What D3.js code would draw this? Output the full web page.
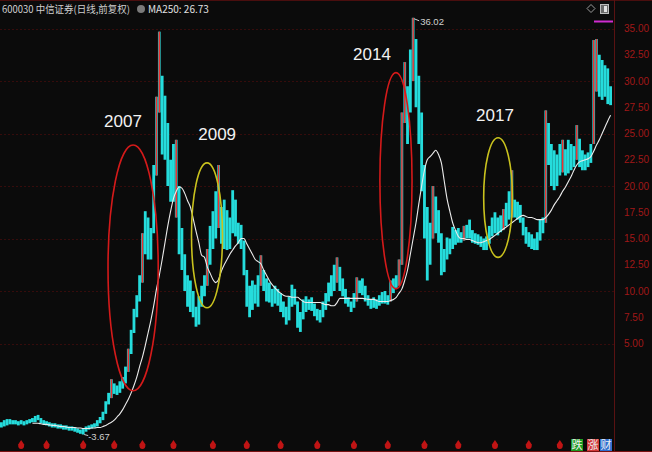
<!DOCTYPE html>
<html><head><meta charset="utf-8">
<script src="https://cdn.jsdelivr.net/npm/d3@7"></script>
<style>html,body{margin:0;padding:0;background:#0b0b0b;} svg{display:block}</style>
</head><body>
<svg id="c" width="652" height="452"></svg>
<script>
// ---------------- DATA (monthly) ----------------
const stockTitle = "600030 中信证券(日线,前复权)";
const maLabel = "MA250";
const months = d3.timeMonth.range(new Date(2003, 0, 1), new Date(2021, 1, 1)); // 2003-01 .. 2021-01

const highs = [
  -2.5,-2.3,-2.2,-2.2,-2.3,-2.3,-2.4,-2.3,-2.4,-2.3,-2.2,-2.1,
  -1.9,-1.8,-2.1,-2.3,-2.4,-2.5,-2.6,-2.6,-2.7,-2.7,-2.8,-2.8,
  -2.9,-2.9,-3.0,-3.1,-3.2,-3.1,-2.9,-2.8,-2.7,-2.6,-2.3,-2.0,
  -1.5,-0.5,0.3,1.6,1.2,1.0,1.4,1.8,2.8,4.5,6.3,8.3,
  9.6,11.5,15.5,17.6,17.0,16.0,22.0,28.5,34.7,30.5,28.6,26.0,
  22.5,24.0,24.4,20.0,16.0,13.5,11.5,11.0,10.0,8.5,9.5,10.5,
  11.5,14.0,16.2,17.6,19.5,22.0,18.0,18.7,17.7,17.0,19.6,18.7,
  16.5,16.3,14.8,12.0,10.5,11.0,10.6,11.5,13.4,12.0,11.2,10.8,
  10.2,10.5,10.2,9.8,9.0,8.5,9.5,10.6,10.2,9.0,8.0,9.2,
  9.5,9.2,9.4,8.8,8.3,8.2,9.0,9.8,10.8,11.5,12.5,13.2,
  12.3,11.2,10.2,9.4,9.0,9.8,11.3,11.0,11.2,10.5,9.6,9.2,
  9.4,9.2,9.6,9.9,10.0,9.6,11.0,11.2,11.5,13.0,27.0,31.8,
  29.5,33.0,36.02,34.0,30.5,27.0,22.0,18.0,16.5,20.0,19.0,17.7,
  15.5,14.0,15.1,15.0,16.1,15.8,16.0,15.6,16.2,16.3,16.8,15.8,
  15.5,15.4,15.2,15.0,15.2,16.2,17.0,17.5,17.0,17.2,17.8,18.4,
  19.5,21.5,18.7,18.5,18.2,17.0,16.1,15.6,15.4,15.0,15.6,16.8,
  17.0,27.2,26.0,24.0,23.4,23.0,24.0,24.4,23.5,24.4,24.0,23.8,
  25.8,24.5,23.4,23.0,23.2,24.0,33.9,34.0,32.5,32.0,31.5,31.2,
  29.5
];
const lows = [
  -3.0,-2.9,-2.8,-2.7,-2.7,-2.7,-2.8,-2.7,-2.8,-2.7,-2.6,-2.5,
  -2.5,-2.3,-2.6,-2.7,-2.8,-2.9,-3.0,-3.0,-3.1,-3.1,-3.2,-3.2,
  -3.3,-3.3,-3.4,-3.5,-3.6,-3.67,-3.4,-3.2,-3.1,-3.0,-2.9,-2.6,
  -2.3,-1.7,-0.8,-0.2,0.2,0.1,0.3,0.7,1.2,2.3,4.0,6.0,
  7.5,9.0,10.8,13.5,13.0,13.0,15.5,21.0,27.0,23.0,22.5,20.0,
  18.5,18.5,17.0,13.5,12.0,10.0,8.5,8.0,7.5,6.6,6.8,8.5,
  9.5,10.5,12.5,14.0,15.0,16.0,14.5,14.0,13.9,14.0,15.5,15.2,
  14.5,14.0,11.5,8.5,7.5,8.2,8.8,8.5,10.5,10.0,9.0,8.9,
  8.5,8.8,8.6,8.0,7.5,6.8,7.2,8.5,8.7,6.5,6.1,7.3,
  8.0,8.2,8.1,7.6,7.2,7.0,7.5,8.2,9.0,9.5,10.0,10.8,
  10.0,9.5,8.8,8.5,8.0,8.4,9.0,9.8,9.6,9.0,8.6,8.3,
  8.4,8.3,8.6,8.8,8.8,8.7,9.0,9.8,10.3,10.5,12.5,26.0,
  24.0,27.0,30.0,27.5,24.0,19.5,15.0,11.0,12.5,15.0,15.5,14.6,
  11.5,11.8,13.0,13.5,14.0,14.4,14.6,14.6,14.8,15.0,15.0,14.6,
  14.5,14.4,14.2,13.9,13.9,14.5,15.2,15.5,15.3,15.6,15.8,16.2,
  16.8,17.0,17.0,16.8,16.5,15.3,14.5,14.2,14.0,13.9,13.9,14.8,
  15.5,16.5,22.0,20.0,19.6,20.0,21.0,21.3,21.0,21.2,21.5,21.8,
  22.5,21.8,21.5,21.5,21.8,22.2,24.0,29.0,28.5,28.2,28.5,27.8,
  27.7
];
const ma250 = [
  null,null,null,null,null,null,null,null,null,null,null,-2.6,
  -2.6,-2.6,-2.65,-2.7,-2.7,-2.75,-2.8,-2.8,-2.85,-2.9,-2.9,-2.95,
  -3.0,-3.0,-3.0,-3.05,-3.05,-3.1,-3.1,-3.1,-3.05,-3.05,-3.0,-3.0,
  -2.9,-2.8,-2.65,-2.5,-2.3,-2.0,-1.7,-1.3,-0.8,-0.3,0.3,1.0,
  1.8,2.8,3.7,4.8,6.0,7.2,8.6,10.2,11.5,13.0,14.6,16.2,
  17.6,18.8,19.5,19.9,19.8,19.3,18.6,18.0,16.9,15.7,14.6,13.4,
  13.2,12.3,11.7,11.1,10.8,11.1,11.9,12.5,13.0,13.5,13.9,14.3,
  14.6,15.0,15.0,14.5,14.0,13.5,13.0,12.8,12.6,12.0,11.5,11.0,
  10.6,10.3,10.0,9.8,9.6,9.5,9.5,9.4,9.4,9.4,9.2,9.0,
  8.9,8.9,8.9,8.9,8.9,8.9,8.8,8.7,8.7,8.6,8.6,8.9,
  9.3,9.3,9.3,9.3,9.3,9.3,9.3,9.3,9.3,9.25,9.2,9.2,
  9.2,9.1,9.0,9.0,9.0,9.0,9.1,9.2,9.4,9.8,10.2,11.0,
  12.0,13.5,15.0,16.5,18.3,20.0,21.5,22.5,22.8,23.1,23.4,23.0,
  22.2,20.5,18.8,17.6,16.5,15.8,15.2,15.0,15.0,14.9,14.9,14.8,
  14.7,14.6,14.6,14.7,14.8,14.9,15.1,15.3,15.5,15.7,15.9,16.1,
  16.3,16.5,16.7,16.9,17.1,17.2,17.1,17.0,17.0,16.9,16.8,16.8,
  16.8,17.0,17.3,17.7,18.2,18.6,19.0,19.5,19.9,20.4,20.9,21.5,
  22.0,22.3,22.4,22.5,22.6,22.8,23.3,23.9,24.4,25.0,25.6,26.2,
  26.73
];
// months whose candles show as red (rising) in the picture
const upMonths = [39,45,50,55,56,62,73,77,92,119,126,138,141,142,143,146,153,164,178,181,193,199,204,210,211];
const tickValues = [5,7.5,10,12.5,15,17.5,20,22.5,25,27.5,30,32.5,35];
const gridValues = [5,10,15,20,25,30,35];
const dividendMonths = [7,16,29,40,50,61,75,87,99,112,125,137,150,162,175,187,198];
const annoLabels = ["2007","2009","2014","2017"];

// ---------------- LAYOUT / STYLE ----------------
const W = 652, H = 452, plotRight = 612, axisX = 614;
const annoStyle = [
  {cx:46.7, cy:12.2, rx:8.9, ry:11.7, lx:43.1, ly:26.2, color:"#d41a1a"},
  {cx:72.9, cy:15.3, rx:5.5, ry:6.9,  lx:76.5, ly:25.0, color:"#c9c21e"},
  {cx:139.9,cy:20.5, rx:5.7, ry:10.3, lx:131.4,ly:32.6, color:"#d41a1a"},
  {cx:176.1,cy:18.9, rx:5.1, ry:5.7,  lx:175.0,ly:26.8, color:"#c9c21e"}
];
const CYAN = "#25dcdc", RED = "#ee3030";

const svg = d3.select("#c");
svg.append("rect").attr("width", W).attr("height", H).attr("fill", "#0b0b0b");

const x = d3.scaleLinear().domain([-0.5, months.length - 0.5]).range([0, plotRight]);
const y = d3.scaleLinear().domain([0, 35]).range([396, 28.5]);
const step = x(1) - x(0);

// grid
svg.append("g").selectAll("line").data(gridValues).join("line")
  .attr("x1", 0).attr("x2", axisX).attr("y1", d => Math.round(y(d)) + 0.5).attr("y2", d => Math.round(y(d)) + 0.5)
  .attr("stroke", "#360c0c").attr("stroke-dasharray", "2,2");

// frame lines
svg.append("line").attr("x1", 0).attr("x2", W).attr("y1", 0.5).attr("y2", 0.5).attr("stroke", "#4a0e0e");
svg.append("line").attr("x1", axisX + 0.5).attr("x2", axisX + 0.5).attr("y1", 0).attr("y2", H).attr("stroke", "#5a1212");
svg.append("line").attr("x1", 0).attr("x2", W).attr("y1", H - 0.5).attr("y2", H - 0.5).attr("stroke", "#7a1212");

// right axis
const ax = svg.append("g").attr("transform", `translate(${axisX},0)`)
  .call(d3.axisRight(y).tickValues(tickValues).tickFormat(d3.format(".2f")).tickSize(0).tickPadding(10));
ax.select(".domain").remove();
ax.selectAll("text").attr("fill", "#a01818").attr("font-size", 10).attr("font-family", "Liberation Sans, Arial, sans-serif");

// candles: down months as filled cyan bars, up months as thin red lines drawn on top
const bars = months.map((m, i) => ({i, hi: highs[i], lo: lows[i], up: upMonths.includes(i)}));
svg.append("g").selectAll("rect").data(bars.filter(d => !d.up)).join("rect")
  .attr("x", d => x(d.i) - step * 0.5).attr("width", step)
  .attr("y", d => y(d.hi)).attr("height", d => Math.max(1, y(d.lo) - y(d.hi)))
  .attr("fill", CYAN);
svg.append("g").selectAll("rect").data(bars.filter(d => d.up)).join("rect")
  .attr("x", d => x(d.i) - step * 0.5).attr("width", step)
  .attr("y", d => y(d.hi)).attr("height", d => Math.max(1, y(d.lo) - y(d.hi)))
  .attr("fill", CYAN).attr("opacity", 0.85);
svg.append("g").selectAll("rect").data(bars.filter(d => d.up)).join("rect")
  .attr("x", d => x(d.i) - 0.7).attr("width", 1.4)
  .attr("y", d => y(d.hi)).attr("height", d => Math.max(1, y(d.lo) - y(d.hi)))
  .attr("fill", RED);

// MA250
const maPts = ma250.map((v, i) => ({i, v})).filter(d => d.v !== null);
svg.append("path").datum(maPts)
  .attr("d", d3.line().x(d => x(d.i)).y(d => y(d.v)).curve(d3.curveMonotoneX))
  .attr("fill", "none").attr("stroke", "#ececec").attr("stroke-width", 1.1);

// max / min labels
const iMax = d3.maxIndex(highs), iMin = d3.minIndex(lows);
const px = x(iMax), py = y(highs[iMax]);
svg.append("line").attr("x1", px + 1).attr("y1", py + 1).attr("x2", px + 6).attr("y2", py + 3).attr("stroke", "#cfcfcf");
svg.append("text").attr("x", px + 7).attr("y", py + 7).text(highs[iMax].toFixed(2))
  .attr("fill", "#d0d0d0").attr("font-size", 9.5).attr("font-family", "Liberation Sans, Arial, sans-serif");
const qx = x(iMin), qy = y(lows[iMin]);
svg.append("line").attr("x1", qx + 1).attr("y1", qy).attr("x2", qx + 5).attr("y2", qy + 1).attr("stroke", "#cfcfcf");
svg.append("text").attr("x", qx + 5).attr("y", qy + 5).text(lows[iMin].toFixed(2))
  .attr("fill", "#d0d0d0").attr("font-size", 9.5).attr("font-family", "Liberation Sans, Arial, sans-serif");

// annotations
const ag = svg.append("g");
annoLabels.forEach((lab, k) => {
  const a = annoStyle[k];
  ag.append("ellipse").attr("cx", x(a.cx)).attr("cy", y(a.cy))
    .attr("rx", x(a.rx) - x(0)).attr("ry", y(0) - y(a.ry))
    .attr("fill", "none").attr("stroke", a.color).attr("stroke-width", 1.6);
  ag.append("text").attr("x", x(a.lx)).attr("y", y(a.ly)).attr("dy", "0.36em").attr("text-anchor", "middle")
    .text(lab).attr("fill", "#f2f2f2").attr("font-size", 17).attr("font-family", "Liberation Sans, Arial, sans-serif");
});

// dividend markers
svg.append("g").selectAll("path").data(dividendMonths).join("path")
  .attr("d", d => { const cx = x(d); return `M${cx},440 L${cx+3},444.5 Q${cx+3.2},449 ${cx},449 Q${cx-3.2},449 ${cx-3},444.5 Z`; })
  .attr("fill", "#c01414");

// header
const hdr = svg.append("g").attr("font-family", "Noto Sans CJK SC, sans-serif").attr("font-size", 10);
const t1 = hdr.append("text").attr("x", 2).attr("y", 12.5).text(stockTitle).attr("fill", "#cfcfcf");
const t1w = t1.node().getComputedTextLength();
const s = 128 / t1w;
if (s < 1) t1.attr("textLength", 128).attr("lengthAdjust", "spacingAndGlyphs");
hdr.append("circle").attr("cx", 141).attr("cy", 9).attr("r", 4).attr("fill", "#7a7a7a");
hdr.append("text").attr("x", 148).attr("y", 12.5).text(`${maLabel}: ${ma250[ma250.length - 1].toFixed(2)}`).attr("fill", "#e0e0e0");

// top-right icons
svg.append("path").attr("d", "M591,4.5 L595,8.5 L591,12.5 L587,8.5 Z").attr("fill", "none").attr("stroke", "#9a9a9a");
svg.append("rect").attr("x", 600.5).attr("y", 4.5).attr("width", 8).attr("height", 9).attr("fill", "#6a6a6a").attr("stroke", "#bcbcbc");
svg.append("rect").attr("x", 604).attr("y", 6).attr("width", 3).attr("height", 6).attr("fill", "#e0e0e0");
svg.append("line").attr("x1", 594).attr("x2", 613).attr("y1", 21.5).attr("y2", 21.5).attr("stroke", "#d02cd0").attr("stroke-width", 2);

// bottom buttons
const btns = [{t:"跌", bg:"#1c9a22", x:571}, {t:"涨", bg:"#d23838", x:587}, {t:"财", bg:"#2f6fd0", x:600}];
const bg = svg.append("g").attr("font-family", "Noto Sans CJK SC, sans-serif").attr("font-size", 11);
btns.forEach(b => {
  bg.append("rect").attr("x", b.x).attr("y", 439).attr("width", 12).attr("height", 12).attr("fill", b.bg);
  bg.append("text").attr("x", b.x + 6).attr("y", 449).attr("text-anchor", "middle").text(b.t).attr("fill", "#f0f0f0");
});
</script>
</body></html>
